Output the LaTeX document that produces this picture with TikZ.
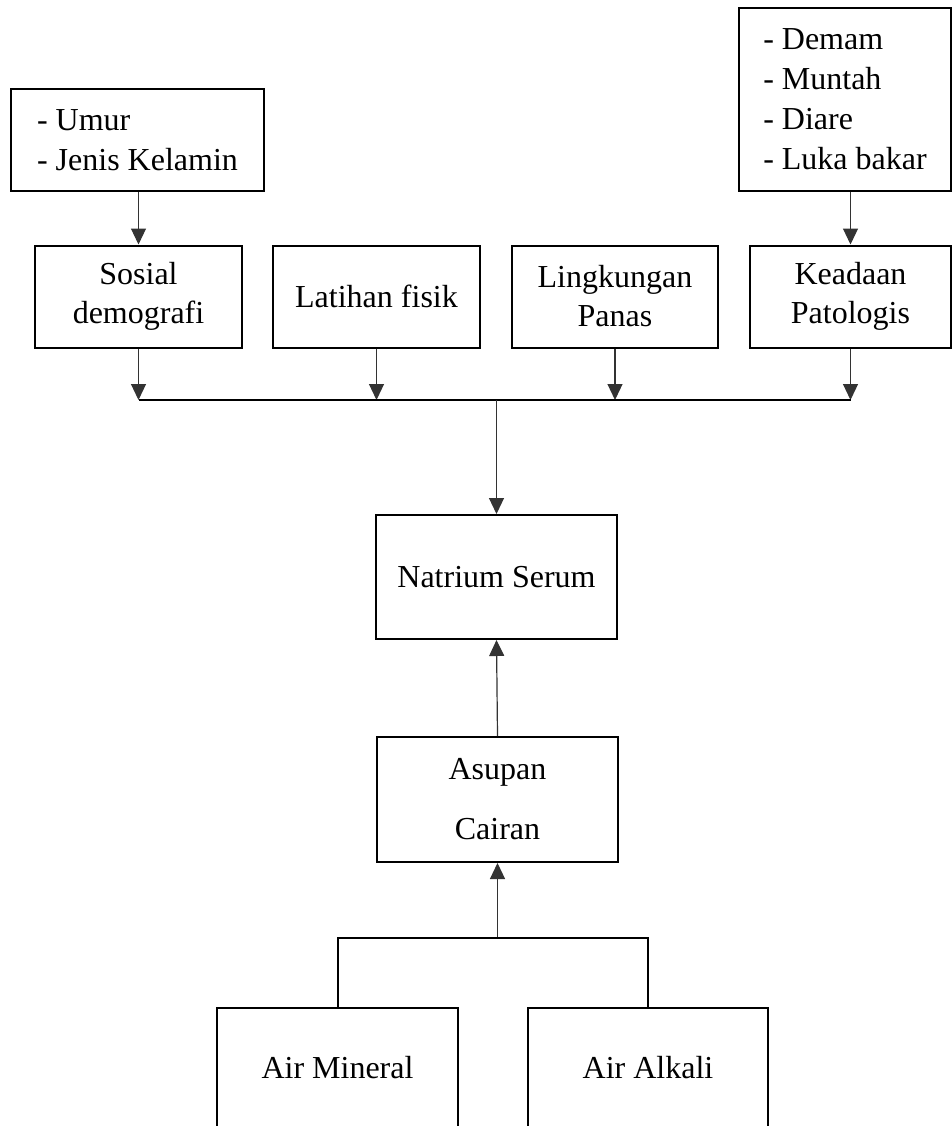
\documentclass[tikz,border=0pt]{standalone}
\usepackage{fontspec}
\setmainfont{Liberation Serif}
\usetikzlibrary{arrows.meta}
\begin{document}
\begin{tikzpicture}[x=1pt,y=-1pt,
  box/.style={draw=black, line width=2pt, inner sep=0pt, align=center,
    font=\fontsize{32}{39}\selectfont},
  listbox/.style={box, align=left, font=\fontsize{32}{40}\selectfont},
  conn/.style={draw=black!80, line width=1.2pt, -{Triangle[width=15pt,length=16pt]}},
  bus/.style={draw=black, line width=2pt}]
\useasboundingbox (0,0) rectangle (952,1126);
\clip (0,0) rectangle (952,1126);

\node[listbox, minimum width=253pt, minimum height=102pt] (umur) at (137.5,140) {- Umur\\- Jenis Kelamin};
\node[listbox, minimum width=212pt, minimum height=183pt] (gejala) at (845,99.5) {- Demam\\- Muntah\\- Diare\\- Luka bakar};

\node[box, minimum width=207pt, minimum height=102pt] (sosial) at (138.5,296.5) {Sosial\\demografi};
\node[box, minimum width=207pt, minimum height=102pt] (latihan) at (376.5,296.5) {Latihan fisik};
\node[box, minimum width=206pt, minimum height=102pt] (lingkungan) at (615,296.5) {Lingkungan\\Panas};
\node[box, minimum width=201pt, minimum height=102pt] (keadaan) at (850.5,296.5) {Keadaan\\Patologis};

\node[box, minimum width=241pt, minimum height=124pt] (natrium) at (496.5,577) {Natrium Serum};
\node[box, minimum width=241pt, minimum height=125pt] (asupan) at (497.5,799.5) {Asupan\\[21pt]Cairan};

\node[box, minimum width=241pt, minimum height=120pt] (mineral) at (337.5,1068) {Air Mineral};
\node[box, minimum width=240pt, minimum height=120pt] (alkali) at (648,1068) {Air Alkali};

\coordinate (busy) at (0,400);
\coordinate (brk) at (497.5,938);

\draw[conn] (umur.south -| sosial.south) -- (sosial.north);
\draw[conn] (gejala.south -| keadaan.south) -- (keadaan.north);

\draw[conn] (sosial.south) -- (sosial.south |- busy);
\draw[conn] (latihan.south) -- (latihan.south |- busy);
\draw[conn] (lingkungan.south) -- (lingkungan.south |- busy);
\draw[conn] (keadaan.south) -- (keadaan.south |- busy);
\draw[bus] (sosial.south |- busy) -- (keadaan.south |- busy);

\draw[conn] (natrium.north |- busy) -- (natrium.north);
\draw[conn] (asupan.north) -- (natrium.south);
\draw[conn] (brk) -- (asupan.south);
\draw[bus] (mineral.north) |- (brk) -| (alkali.north);
\end{tikzpicture}
\end{document}
